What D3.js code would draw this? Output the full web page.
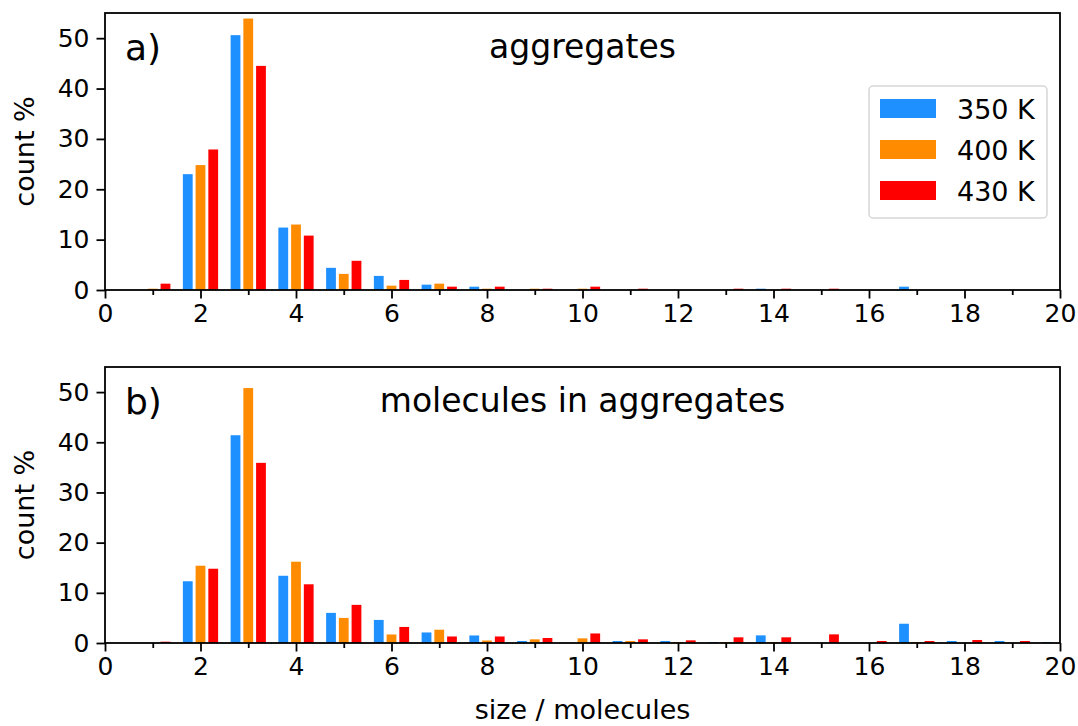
<!DOCTYPE html>
<html>
<head>
<meta charset="utf-8">
<script src="https://cdn.jsdelivr.net/npm/d3@7"></script>
<style>
  body { margin: 0; background: #fff; }
  svg { display: block; font-family: "DejaVu Sans", sans-serif; }
</style>
</head>
<body>
<div id="chart"></div>
<script>
// aggregate size bins (molecules)
const sizes = [1, 2, 3, 4, 5, 6, 7, 8, 9, 10, 11, 12, 13, 14, 15, 16, 17, 18, 19, 20];
const temps = ["350 K", "400 K", "430 K"];
const colors = ["#1E90FF", "#FF8C00", "#FF0000"];

// panel a) aggregates, count %
const aggr350 = [0, 23.0, 50.6, 12.4, 4.4, 2.8, 1.06, 0.66, 0, 0, 0, 0, 0, 0.26, 0, 0, 0.66, 0, 0, 0];
const aggr400 = [0.26, 24.8, 53.9, 13.0, 3.2, 0.86, 1.26, 0.26, 0.26, 0.26, 0, 0, 0, 0, 0, 0, 0, 0, 0, 0];
const aggr430 = [1.26, 27.9, 44.5, 10.8, 5.8, 2.0, 0.66, 0.66, 0.26, 0.66, 0.26, 0, 0.26, 0.26, 0.26, 0, 0, 0, 0, 0];

// panel b) molecules in aggregates, count %
const mol350 = [0, 12.3, 41.4, 13.4, 6.0, 4.6, 2.1, 1.5, 0.4, 0, 0.4, 0.4, 0.2, 1.52, 0, 0, 3.84, 0.4, 0.4, 0.2];
const mol400 = [0, 15.4, 50.8, 16.2, 5.0, 1.7, 2.65, 0.5, 0.73, 0.93, 0.4, 0.2, 0.2, 0.2, 0, 0, 0.2, 0, 0, 0];
const mol430 = [0.26, 14.8, 35.9, 11.7, 7.6, 3.2, 1.3, 1.3, 1.0, 1.9, 0.73, 0.53, 1.13, 1.13, 1.72, 0.4, 0.4, 0.6, 0.4, 0];

const xTicks = d3.range(0, 21, 2);
const xMinor = d3.range(1, 20, 2);
const yTicks = [0, 10, 20, 30, 40, 50];

const width = 1078, height = 726;
const left = 105, right = 1060;

const svg = d3.select("#chart").append("svg")
    .attr("width", width)
    .attr("height", height);

svg.append("defs").selectAll("clipPath")
    .data(["clipA", "clipB"])
    .join("clipPath")
    .attr("id", d => d);

function drawPanel(top, bottom, series, label, title, clipId) {
    const x = d3.scaleLinear().domain([0, 20]).range([left, right]);
    const y = d3.scaleLinear().domain([0, 55]).range([bottom, top]);
    const g = svg.append("g");

    d3.select("#" + clipId).append("rect")
        .attr("x", left).attr("y", top)
        .attr("width", right - left).attr("height", bottom - top);

    const barW = 0.205;
    const step = 0.8 / 3;
    const bars = g.append("g").attr("clip-path", `url(#${clipId})`);
    series.forEach((vals, k) => {
        bars.append("g")
            .selectAll("rect")
            .data(sizes.map((s, i) => ({ s: s, v: vals[i] })).filter(d => d.v > 0))
            .join("rect")
            .attr("x", d => x(d.s + (k - 1) * step - barW / 2))
            .attr("width", x(barW) - x(0))
            .attr("y", d => y(d.v))
            .attr("height", d => y(0) - y(d.v))
            .attr("fill", colors[k]);
    });

    // axes
    const xAxis = g.append("g")
        .attr("transform", `translate(0,${bottom})`)
        .call(d3.axisBottom(x).tickValues(xTicks).tickSize(8.5).tickPadding(4));
    g.append("g")
        .attr("transform", `translate(0,${bottom})`)
        .call(d3.axisBottom(x).tickValues(xMinor).tickSize(5).tickFormat(""))
        .call(a => a.select(".domain").remove());
    const yAxis = g.append("g")
        .attr("transform", `translate(${left},0)`)
        .call(d3.axisLeft(y).tickValues(yTicks).tickSize(8.5).tickPadding(7));

    [xAxis, yAxis].forEach(a => {
        a.select(".domain").remove();
        a.selectAll("text").attr("font-size", 25).attr("fill", "#000")
            .attr("font-family", "DejaVu Sans, sans-serif");
    });
    g.selectAll(".tick line").attr("stroke", "#000").attr("stroke-width", 1.8);
    xAxis.selectAll("text").attr("dy", "0.76em");

    // frame
    g.append("rect")
        .attr("x", left).attr("y", top)
        .attr("width", right - left).attr("height", bottom - top)
        .attr("fill", "none").attr("stroke", "#000").attr("stroke-width", 1.8);

    g.append("text")
        .attr("x", left + 20).attr("y", top + 47)
        .attr("font-size", 36)
        .text(label);
    g.append("text")
        .attr("x", (left + right) / 2).attr("y", top + 45)
        .attr("text-anchor", "middle")
        .attr("font-size", 33)
        .text(title);

    g.append("text")
        .attr("transform", `translate(34,${(top + bottom) / 2}) rotate(-90)`)
        .attr("text-anchor", "middle")
        .attr("font-size", 27)
        .text("count %");
    return g;
}

const gA = drawPanel(13, 290, [aggr350, aggr400, aggr430], "a)", "aggregates", "clipA");
drawPanel(367, 643, [mol350, mol400, mol430], "b)", "molecules in aggregates", "clipB");

svg.append("text")
    .attr("x", (left + right) / 2).attr("y", 719)
    .attr("text-anchor", "middle")
    .attr("font-size", 27)
    .text("size / molecules");

// legend
const legend = gA.append("g").attr("transform", "translate(869,86)");
legend.append("rect")
    .attr("width", 178).attr("height", 132).attr("rx", 4)
    .attr("fill", "#fff").attr("stroke", "#d6d6d6").attr("stroke-width", 1.5);
const row = legend.selectAll("g.row")
    .data(temps)
    .join("g")
    .attr("class", "row")
    .attr("transform", (d, i) => `translate(0,${22.5 + i * 41})`);
row.append("rect")
    .attr("x", 11).attr("y", -9.5)
    .attr("width", 56).attr("height", 19)
    .attr("fill", (d, i) => colors[i]);
row.append("text")
    .attr("x", 88).attr("y", 10)
    .attr("font-size", 27)
    .text(d => d);
</script>
</body>
</html>
